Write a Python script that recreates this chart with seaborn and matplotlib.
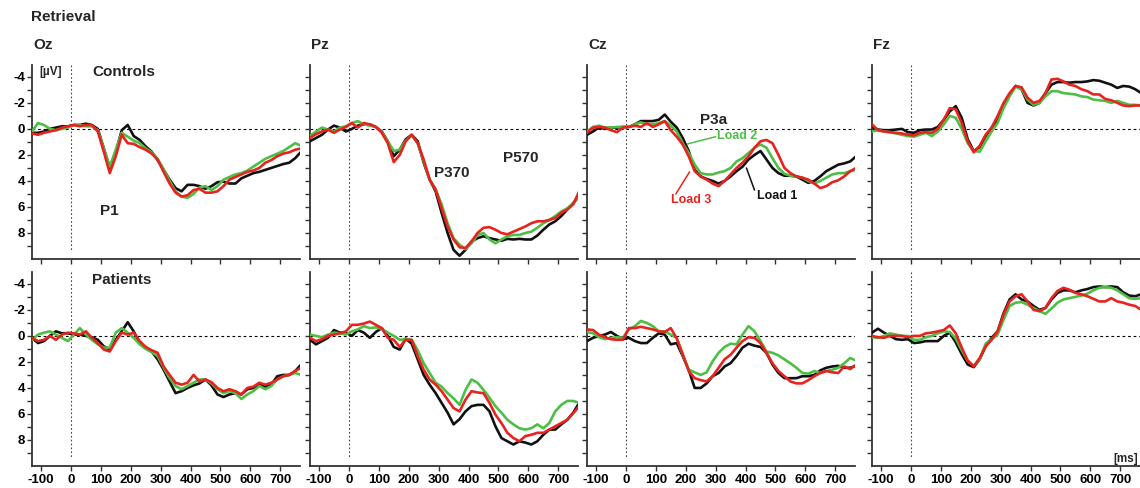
import matplotlib
matplotlib.use("Agg")
import matplotlib.pyplot as plt
import pandas as pd
import seaborn as sns

# ---------------- data ----------------
time_ms = [-130, -110, -90, -70, -50, -30, -10, 10, 30, 50, 70, 90, 110, 130, 150, 170,
           190, 210, 230, 250, 270, 290, 310, 330, 350, 370, 390, 410, 430, 450, 470,
           490, 510, 530, 550, 570, 590, 610, 630, 650, 670, 690, 710, 730, 750, 770]

channels = ["Oz", "Pz", "Cz", "Fz"]
groups = ["Controls", "Patients"]
loads = ["Load 1", "Load 2", "Load 3"]
x_ticks = [-100, 0, 100, 200, 300, 400, 500, 600, 700]
y_ticks = [-4, -2, 0, 2, 4, 6, 8]
y_minor = [-3, -1, 1, 3, 5, 7, 9]

# Controls
oz_c1 = [0.3, 0.3, 0.2, 0.0, -0.1, -0.2, -0.2, -0.3, -0.3, -0.4, -0.3, 0.0, 1.5, 3.0, 1.8, 0.1, -0.3, 0.55, 0.85, 1.35, 1.75, 2.4, 3.15, 3.9, 4.55, 4.8, 4.3, 4.3, 4.4, 4.6, 4.4, 4.1, 4.05, 4.2, 4.2, 3.8, 3.6, 3.4, 3.3, 3.15, 3.0, 2.85, 2.7, 2.6, 2.25, 1.75]
oz_c2 = [0.2, -0.45, -0.3, 0.0, 0.1, 0.0, -0.1, -0.3, -0.3, -0.2, -0.2, 0.1, 1.5, 2.9, 1.6, 0.3, 0.6, 0.9, 1.1, 1.5, 1.8, 2.3, 3.1, 4.0, 4.8, 5.2, 5.3, 5.0, 4.5, 4.4, 4.7, 4.4, 3.9, 3.7, 3.5, 3.4, 3.2, 2.9, 2.6, 2.3, 2.1, 1.9, 1.7, 1.4, 1.1, 1.3]
oz_c3 = [0.35, 0.45, 0.3, 0.2, 0.1, -0.1, -0.2, -0.3, -0.2, -0.3, -0.3, 0.2, 1.75, 3.4, 2.1, 0.45, 1.1, 1.15, 1.4, 1.6, 1.9, 2.35, 3.3, 4.2, 4.9, 5.2, 5.1, 4.7, 4.6, 4.9, 4.9, 4.8, 4.4, 3.9, 3.7, 3.5, 3.3, 3.2, 3.0, 2.6, 2.4, 2.1, 1.9, 1.8, 1.6, 1.5]

pz_c1 = [0.95, 0.7, 0.45, 0.05, -0.25, -0.1, 0.2, 0.0, -0.25, -0.35, -0.35, -0.15, 0.2, 0.95, 2.1, 1.6, 0.8, 0.45, 0.95, 2.6, 3.9, 4.8, 6.45, 8.0, 9.3, 9.75, 9.3, 8.65, 8.4, 8.25, 8.4, 8.5, 8.6, 8.45, 8.5, 8.45, 8.5, 8.5, 8.2, 7.75, 7.35, 7.1, 6.7, 6.2, 5.7, 5.2]
pz_c2 = [0.55, 0.2, -0.1, 0.05, 0.2, -0.1, -0.2, -0.45, -0.6, -0.35, -0.25, -0.15, 0.25, 0.95, 1.7, 1.6, 0.9, 0.5, 1.1, 2.5, 3.9, 4.65, 5.8, 7.25, 8.4, 8.9, 9.25, 8.8, 8.15, 8.0, 8.5, 8.8, 8.5, 8.25, 8.15, 8.15, 8.0, 7.9, 7.6, 7.25, 7.0, 6.7, 6.35, 6.1, 5.7, 5.2]
pz_c3 = [0.7, 0.4, 0.2, 0.05, 0.3, 0.05, -0.15, -0.45, -0.1, -0.45, -0.35, -0.15, 0.3, 1.1, 2.55, 2.0, 0.95, 0.45, 1.1, 2.35, 3.9, 4.65, 6.1, 7.5, 8.5, 9.1, 9.15, 8.65, 8.0, 7.6, 7.55, 7.75, 8.0, 8.1, 7.9, 7.7, 7.5, 7.25, 7.1, 7.1, 7.0, 6.85, 6.45, 6.2, 5.8, 4.8]

cz_c1 = [0.45, 0.2, -0.1, 0.0, -0.1, -0.1, -0.15, -0.15, -0.35, -0.6, -0.6, -0.6, -0.7, -1.1, -0.55, -0.1, 0.7, 1.7, 3.15, 3.65, 3.85, 4.0, 4.2, 4.0, 3.65, 3.25, 2.9, 2.35, 2.0, 1.7, 2.35, 3.0, 3.4, 3.6, 3.6, 3.65, 3.9, 4.15, 4.0, 3.65, 3.25, 3.0, 2.75, 2.65, 2.5, 2.1]
cz_c2 = [0.2, -0.15, -0.25, -0.1, -0.1, -0.15, -0.15, -0.15, -0.35, -0.5, -0.35, -0.35, -0.45, -0.6, -0.25, 0.2, 1.1, 1.85, 2.75, 3.4, 3.5, 3.5, 3.35, 3.25, 3.0, 2.5, 2.25, 1.85, 1.45, 1.2, 1.45, 2.25, 3.0, 3.45, 3.6, 3.65, 3.75, 4.0, 4.2, 4.0, 3.75, 3.5, 3.4, 3.4, 3.25, 3.15]
cz_c3 = [0.3, -0.1, -0.15, -0.1, 0.1, 0.25, -0.1, -0.15, -0.25, -0.15, -0.45, -0.15, -0.35, -0.6, 0.1, 0.6, 1.2, 2.1, 3.25, 3.65, 3.9, 4.2, 4.4, 4.0, 3.5, 3.0, 2.6, 2.1, 1.45, 0.95, 0.85, 1.1, 2.0, 3.0, 3.4, 3.65, 3.75, 3.9, 4.2, 4.55, 4.4, 4.1, 3.95, 3.65, 3.25, 3.0]

fz_c1 = [-0.15, 0.05, 0.1, 0.1, 0.05, 0.0, 0.25, 0.3, 0.1, 0.05, 0.05, -0.15, -0.7, -1.35, -1.75, -0.85, 0.8, 1.7, 1.4, 0.55, -0.1, -0.7, -1.75, -2.65, -3.3, -3.05, -2.0, -1.8, -2.0, -2.75, -3.4, -3.6, -3.6, -3.55, -3.6, -3.6, -3.65, -3.75, -3.7, -3.55, -3.4, -3.15, -3.3, -3.25, -3.05, -2.75]
fz_c2 = [0.2, 0.1, 0.2, 0.25, 0.35, 0.45, 0.55, 0.6, 0.45, 0.3, 0.55, 0.2, -0.35, -1.0, -0.85, 0.0, 1.1, 1.7, 1.75, 0.95, 0.2, -0.45, -1.6, -2.5, -3.25, -3.05, -2.25, -1.85, -2.0, -2.5, -2.9, -2.9, -2.75, -2.7, -2.65, -2.5, -2.45, -2.25, -2.2, -2.15, -2.0, -2.15, -2.0, -1.85, -1.85, -1.8]
fz_c3 = [-0.35, 0.1, 0.2, 0.25, 0.3, 0.35, 0.45, 0.5, 0.3, 0.25, 0.3, 0.0, -0.7, -1.6, -1.5, -0.45, 0.95, 1.8, 1.3, 0.45, -0.1, -1.0, -2.0, -2.75, -3.3, -3.2, -2.4, -2.0, -2.15, -2.75, -3.8, -3.85, -3.65, -3.4, -3.3, -3.05, -2.9, -2.65, -2.65, -2.3, -2.2, -2.0, -1.8, -1.75, -1.8, -1.8]

# Patients
oz_p1 = [0.15, 0.55, 0.4, 0.0, -0.35, -0.2, -0.2, -0.1, -0.1, 0.0, 0.1, 0.3, 0.8, 1.05, 0.3, -0.35, -1.05, -0.35, 0.55, 0.9, 1.2, 1.8, 2.6, 3.5, 4.4, 4.25, 4.0, 3.8, 3.65, 3.35, 3.8, 4.5, 4.7, 4.5, 4.4, 4.5, 4.1, 4.0, 3.75, 3.9, 3.75, 3.1, 3.0, 3.0, 2.7, 2.2]
oz_p2 = [0.3, -0.1, -0.25, -0.35, -0.1, 0.15, 0.4, -0.1, -0.6, -0.1, 0.3, 0.65, 0.9, 0.9, -0.25, -0.6, -0.25, 0.15, 0.65, 1.0, 1.25, 1.55, 2.45, 3.25, 3.85, 4.1, 3.85, 3.6, 3.35, 3.35, 3.65, 4.1, 4.4, 4.25, 4.4, 4.85, 4.5, 4.25, 3.85, 4.1, 3.85, 3.35, 3.1, 3.0, 2.85, 3.0]
oz_p3 = [0.15, 0.4, 0.3, 0.0, 0.3, -0.1, -0.25, -0.2, -0.1, -0.35, 0.15, 0.55, 1.05, 1.2, 0.4, -0.25, -0.1, -0.25, 0.4, 0.85, 1.1, 1.3, 2.35, 3.0, 3.6, 3.75, 3.6, 3.0, 3.5, 3.35, 3.55, 4.0, 4.25, 4.1, 4.25, 4.5, 4.0, 3.9, 3.6, 3.75, 3.6, 3.35, 3.1, 3.0, 2.7, 2.45]

pz_p1 = [0.3, 0.65, 0.4, 0.15, -0.45, -0.25, -0.25, 0.0, -0.45, -0.25, 0.15, -0.3, -0.6, 0.0, 0.85, 1.05, 0.2, 0.6, 1.8, 3.0, 3.75, 4.4, 5.15, 5.9, 6.8, 6.4, 5.8, 5.4, 5.3, 5.3, 5.8, 6.95, 7.85, 8.1, 8.35, 8.1, 8.2, 8.35, 8.1, 7.6, 7.2, 7.2, 6.8, 6.45, 5.9, 5.15]
pz_p2 = [-0.1, 0.0, 0.1, -0.1, -0.25, -0.2, -0.1, -0.35, -0.5, -0.75, -0.6, -0.65, -0.55, -0.25, 0.0, 0.3, 0.25, 0.3, 1.1, 2.1, 2.85, 3.6, 3.9, 4.4, 4.8, 5.3, 4.15, 3.35, 3.6, 4.15, 4.75, 5.4, 5.9, 6.45, 6.8, 7.1, 7.2, 7.1, 6.8, 7.1, 6.7, 5.8, 5.3, 5.0, 5.0, 5.15]
pz_p3 = [0.15, 0.4, 0.25, 0.0, -0.1, -0.2, -0.35, -0.85, -0.85, -0.95, -1.1, -0.85, -0.6, 0.15, 0.3, 0.85, 0.3, 0.3, 1.55, 2.6, 3.35, 3.75, 4.25, 4.9, 5.55, 5.8, 4.9, 4.25, 4.35, 4.4, 5.15, 6.05, 6.7, 7.45, 7.85, 8.1, 7.7, 7.6, 7.45, 7.45, 7.2, 6.95, 6.7, 6.45, 5.95, 5.4]

cz_p1 = [0.4, 0.15, 0.0, -0.1, -0.3, 0.0, 0.25, 0.15, 0.4, 0.55, 0.55, 0.15, -0.2, -0.1, 0.65, 0.55, 1.55, 2.6, 4.0, 4.0, 3.65, 3.1, 2.85, 2.35, 2.1, 1.55, 0.9, 0.6, 0.75, 0.85, 1.3, 2.2, 2.85, 3.25, 3.25, 3.25, 3.1, 3.1, 3.0, 2.65, 2.45, 2.35, 2.3, 2.45, 2.45, 2.3]
cz_p2 = [-0.3, -0.2, 0.1, 0.25, 0.15, 0.1, 0.15, -0.5, -0.75, -1.15, -1.0, -0.75, -0.35, -0.35, -0.1, 0.15, 1.45, 2.6, 2.8, 3.0, 2.8, 1.95, 1.3, 0.85, 0.6, 0.65, -0.1, -0.75, -0.35, 0.4, 1.2, 1.3, 1.5, 1.8, 2.1, 2.45, 2.85, 2.9, 2.7, 2.85, 2.7, 2.6, 2.45, 2.1, 1.7, 1.9]
cz_p3 = [-0.5, -0.45, -0.1, 0.1, 0.25, 0.3, 0.3, -0.6, -0.6, -0.7, -0.6, -0.5, -0.35, -0.3, -0.6, 0.2, 1.4, 2.7, 3.25, 3.4, 3.5, 3.1, 2.45, 1.8, 1.45, 0.9, 0.4, 0.1, 0.15, 0.55, 1.3, 2.1, 2.7, 3.1, 3.5, 3.65, 3.65, 3.4, 3.1, 2.85, 2.7, 2.8, 2.85, 2.35, 2.55, 2.2]

fz_p1 = [-0.25, -0.55, -0.25, 0.0, 0.25, 0.3, 0.25, 0.55, 0.5, 0.4, 0.4, 0.4, 0.0, -0.25, 0.5, 1.4, 2.2, 2.4, 1.8, 0.8, 0.15, -0.35, -1.75, -2.8, -3.2, -2.8, -2.65, -2.3, -2.0, -2.15, -2.8, -3.3, -3.5, -3.5, -3.35, -3.5, -3.6, -3.75, -3.8, -3.75, -3.8, -3.75, -3.35, -3.1, -3.05, -3.2]
fz_p2 = [0.1, 0.15, 0.0, -0.2, -0.1, 0.0, 0.0, 0.3, 0.3, 0.1, 0.0, -0.2, -0.35, -0.3, 0.2, 1.1, 1.9, 2.3, 1.8, 0.6, 0.25, -0.1, -1.25, -2.3, -2.55, -2.6, -2.4, -2.15, -1.9, -1.7, -2.1, -2.55, -2.8, -2.9, -3.0, -3.1, -3.25, -3.5, -3.7, -3.75, -3.7, -3.5, -3.2, -2.9, -2.85, -2.9]
fz_p3 = [0.0, 0.1, 0.15, 0.0, 0.0, 0.0, 0.1, 0.0, 0.0, -0.2, -0.25, -0.35, -0.45, -0.8, -0.2, 0.9, 1.9, 2.35, 1.7, 0.8, 0.3, -0.35, -1.65, -2.65, -3.05, -3.2, -2.65, -2.0, -1.9, -2.15, -2.9, -3.45, -3.7, -3.55, -3.3, -3.2, -3.05, -2.85, -2.65, -2.65, -2.9, -2.65, -2.55, -2.4, -2.3, -2.0]

series = {
    ("Controls", "Oz"): [oz_c1, oz_c2, oz_c3],
    ("Controls", "Pz"): [pz_c1, pz_c2, pz_c3],
    ("Controls", "Cz"): [cz_c1, cz_c2, cz_c3],
    ("Controls", "Fz"): [fz_c1, fz_c2, fz_c3],
    ("Patients", "Oz"): [oz_p1, oz_p2, oz_p3],
    ("Patients", "Pz"): [pz_p1, pz_p2, pz_p3],
    ("Patients", "Cz"): [cz_p1, cz_p2, cz_p3],
    ("Patients", "Fz"): [fz_p1, fz_p2, fz_p3],
}

rows = []
for (grp, ch), vals in series.items():
    for load, v in zip(loads, vals):
        for t, a in zip(time_ms, v):
            rows.append({"group": grp, "channel": ch, "load": load, "time": t, "amp": a})
df = pd.DataFrame(rows)

# ---------------- style ----------------
sns.set_theme(style="ticks")
plt.rcParams["font.family"] = ["Liberation Sans", "DejaVu Sans"]
plt.rcParams["font.weight"] = "bold"
plt.rcParams["xtick.color"] = "black"
plt.rcParams["ytick.color"] = "black"

BLACK, GREEN, RED = "#111111", "#4cbf45", "#e8231f"
palette = {"Load 1": BLACK, "Load 2": GREEN, "Load 3": RED}

W, H = 1140, 488
fig = plt.figure(figsize=(W / 100, H / 100), dpi=100)
col_left = [32, 310, 587, 872]
row_top = [64.5, 271.5]
aw, ah = 268, 194.5

axes = {}
for r, grp in enumerate(groups):
    for c, ch in enumerate(channels):
        ax = fig.add_axes([col_left[c] / W, 1 - (row_top[r] + ah) / H, aw / W, ah / H])
        axes[(grp, ch)] = ax
        sub = df[(df.group == grp) & (df.channel == ch)]
        ax.axhline(0, color="black", lw=0.8, ls=(0, (2.5, 2.5)), zorder=1)
        ax.vlines(0, -4.95, 9.4, color="#444444", lw=0.8, ls=(0, (1.5, 2)), zorder=1)
        sns.lineplot(data=sub, x="time", y="amp", hue="load", hue_order=loads,
                     palette=palette, linewidth=1.9, ax=ax, legend=False,
                     estimator=None, errorbar=None, zorder=3)
        ax.set_xlim(-130, 766)
        ax.set_ylim(10, -4.95)
        ax.set_xlabel("")
        ax.set_ylabel("")
        for s in ["top", "right"]:
            ax.spines[s].set_visible(False)
        for s in ["left", "bottom"]:
            ax.spines[s].set_linewidth(1.3)
            ax.spines[s].set_color("#333333")
        ax.set_yticks(y_ticks)
        ax.set_yticks(y_minor, minor=True)
        ax.set_xticks(x_ticks)
        ax.tick_params(axis="both", which="both", direction="out", length=3.5, width=1,
                       color="#333333", labelsize=9.5, pad=2)
        ax.tick_params(axis="y", pad=1.5)
        if c != 0:
            ax.set_yticklabels([])
        else:
            ax.set_yticklabels([str(v) for v in y_ticks], fontweight="bold")
        if r == 0:
            ax.set_xticklabels([])
        else:
            ax.set_xticklabels([str(v) for v in x_ticks], fontweight="bold")

# ---------------- texts ----------------
fig.text(31 / W, 1 - 17 / H, "Retrieval", fontsize=11, fontweight="bold", va="center", ha="left")
for c, ch in enumerate(channels):
    fig.text((col_left[c] + 1) / W, 1 - 45 / H, ch, fontsize=11, fontweight="bold",
             va="center", ha="left")

a = axes[("Controls", "Oz")]
a.text(-106, -4.35, "[µV]", fontsize=8.5, fontweight="bold", va="center", ha="left")
a.text(71, -4.35, "Controls", fontsize=11, fontweight="bold", va="center", ha="left")
a.text(98, 6.3, "P1", fontsize=11, fontweight="bold", va="center", ha="left")

axes[("Patients", "Oz")].text(71, -4.3, "Patients", fontsize=11, fontweight="bold",
                               va="center", ha="left")

a = axes[("Controls", "Pz")]
a.text(284, 3.4, "P370", fontsize=11, fontweight="bold", va="center", ha="left")
a.text(515, 2.2, "P570", fontsize=11, fontweight="bold", va="center", ha="left")

a = axes[("Controls", "Cz")]
a.text(247, -0.7, "P3a", fontsize=11, fontweight="bold", va="center", ha="left")
a.plot([207, 300], [1.15, 0.6], color=GREEN, lw=1.1)
a.text(303, 0.55, "Load 2", fontsize=9, fontweight="bold", color=GREEN, va="center", ha="left")
a.plot([167, 213], [5.0, 3.3], color=RED, lw=1.1)
a.text(150, 5.5, "Load 3", fontsize=9, fontweight="bold", color=RED, va="center", ha="left")
a.plot([430, 403], [4.7, 3.0], color=BLACK, lw=1.1)
a.text(437, 5.15, "Load 1", fontsize=9, fontweight="bold", color=BLACK, va="center", ha="left")

axes[("Patients", "Fz")].text(678, 9.5, "[ms]", fontsize=8.5, fontweight="bold",
                              va="center", ha="left")

fig.savefig("out.png", dpi=100)
